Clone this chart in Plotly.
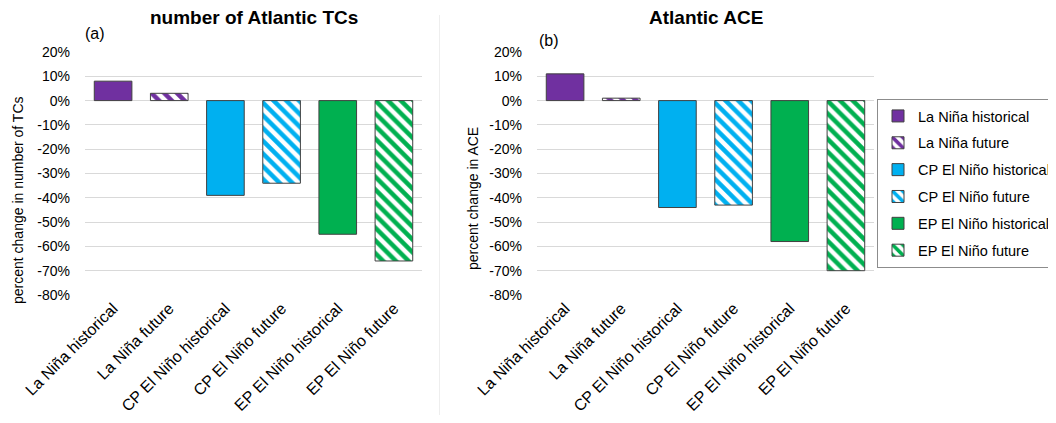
import plotly.graph_objects as go

# ---------------- data ----------------
categories = ["La Niña historical", "La Niña future", "CP El Niño historical",
              "CP El Niño future", "EP El Niño historical", "EP El Niño future"]
tcs_change = [8, 3, -39, -34, -55, -66]     # panel (a) percent change in number of TCs
ace_change = [11, 1, -44, -43, -58, -70]    # panel (b) percent change in ACE
y_tickvals = [20, 10, 0, -10, -20, -30, -40, -50, -60, -70, -80]
y_ticktext = ["20%", "10%", "0%", "-10%", "-20%", "-30%", "-40%", "-50%", "-60%", "-70%", "-80%"]

# ---------------- styles ----------------
colors = ["#7030A0", "#7030A0", "#00B0F0", "#00B0F0", "#00B050", "#00B050"]
hatched = [False, True, False, True, False, True]

# page body has an 8px margin: figure is sized/offset to fit the 1056x423 window
OFF = 8
W, H = 1056 - OFF, 423 - 2 * OFF
FONT = "Liberation Sans, Arial, sans-serif"


def px_x(x):
    return (x - OFF) / W


def px_y(y):
    return (H - (y - OFF)) / H


fig = go.Figure()

for panel, values in enumerate([tcs_change, ace_change]):
    xa = "x" if panel == 0 else "x2"
    ya = "y" if panel == 0 else "y2"
    for i, cat in enumerate(categories):
        if hatched[i]:
            marker = dict(color="white",
                          line=dict(color="#404040", width=1),
                          pattern=dict(shape="\\", fgcolor=colors[i], bgcolor="white",
                                       fgopacity=1, size=9, solidity=0.5,
                                       fillmode="replace"))
        else:
            marker = dict(color=colors[i], line=dict(color="#404040", width=1))
        fig.add_trace(go.Bar(
            x=[cat], y=[values[i]], name=cat, marker=marker,
            xaxis=xa, yaxis=ya, showlegend=(panel == 0),
            legendgroup=cat,
        ))

y_dom = [px_y(295), px_y(52)]
common_y = dict(range=[-80, 20], tickvals=y_tickvals, ticktext=y_ticktext,
                showgrid=True, gridcolor="#D9D9D9", gridwidth=1,
                zeroline=False, showline=False, ticks="",
                ticklabelstandoff=14, automargin=False,
                tickfont=dict(family=FONT, size=14, color="#000000"),
                domain=y_dom, fixedrange=True)
common_x = dict(showgrid=False, zeroline=False, showline=False, ticks="",
                automargin=False, ticklabelstandoff=0,
                tickangle=-45, tickfont=dict(family=FONT, size=16, color="#000000"),
                categoryorder="array", categoryarray=categories)

fig.update_layout(
    width=W, height=H,
    margin=dict(l=0, r=0, t=0, b=0, autoexpand=False),
    paper_bgcolor="white", plot_bgcolor="white",
    barmode="relative", bargap=0.33,
    font=dict(family=FONT, color="#000000"),
    xaxis=dict(domain=[px_x(85), px_x(422)], anchor="y", **common_x),
    xaxis2=dict(domain=[px_x(537), px_x(874)], anchor="y2", **common_x),
    yaxis=dict(anchor="x", **common_y),
    yaxis2=dict(anchor="x2", **common_y),
    legend=dict(x=px_x(1056), y=px_y(99), xanchor="right", yanchor="top",
                bordercolor="#8C8C8C", borderwidth=1, bgcolor="white",
                font=dict(family=FONT, size=14.5, color="#000000"),
                tracegroupgap=5, itemwidth=30, traceorder="grouped"),
    shapes=[dict(type="line", xref="paper", yref="paper",
                 x0=px_x(439.5), x1=px_x(439.5), y0=0, y1=px_y(15),
                 line=dict(color="#EEEEEE", width=1))],
    annotations=[
        dict(text="<b>number of Atlantic TCs</b>", x=px_x(254), y=px_y(18),
             xref="paper", yref="paper", showarrow=False, xanchor="center", yanchor="middle",
             font=dict(family=FONT, size=19)),
        dict(text="<b>Atlantic ACE</b>", x=px_x(706), y=px_y(18),
             xref="paper", yref="paper", showarrow=False, xanchor="center", yanchor="middle",
             font=dict(family=FONT, size=19)),
        dict(text="(a)", x=px_x(95), y=px_y(33), xref="paper", yref="paper",
             showarrow=False, xanchor="center", yanchor="middle",
             font=dict(family=FONT, size=16)),
        dict(text="(b)", x=px_x(549), y=px_y(41), xref="paper", yref="paper",
             showarrow=False, xanchor="center", yanchor="middle",
             font=dict(family=FONT, size=16)),
        dict(text="percent change in number of TCs", x=px_x(18), y=px_y(200),
             xref="paper", yref="paper", showarrow=False, textangle=-90,
             xanchor="center", yanchor="middle",
             font=dict(family=FONT, size=14)),
        dict(text="percent change in ACE", x=px_x(473), y=px_y(199),
             xref="paper", yref="paper", showarrow=False, textangle=-90,
             xanchor="center", yanchor="middle",
             font=dict(family=FONT, size=14)),
    ],
)

fig.write_html("out.html")
